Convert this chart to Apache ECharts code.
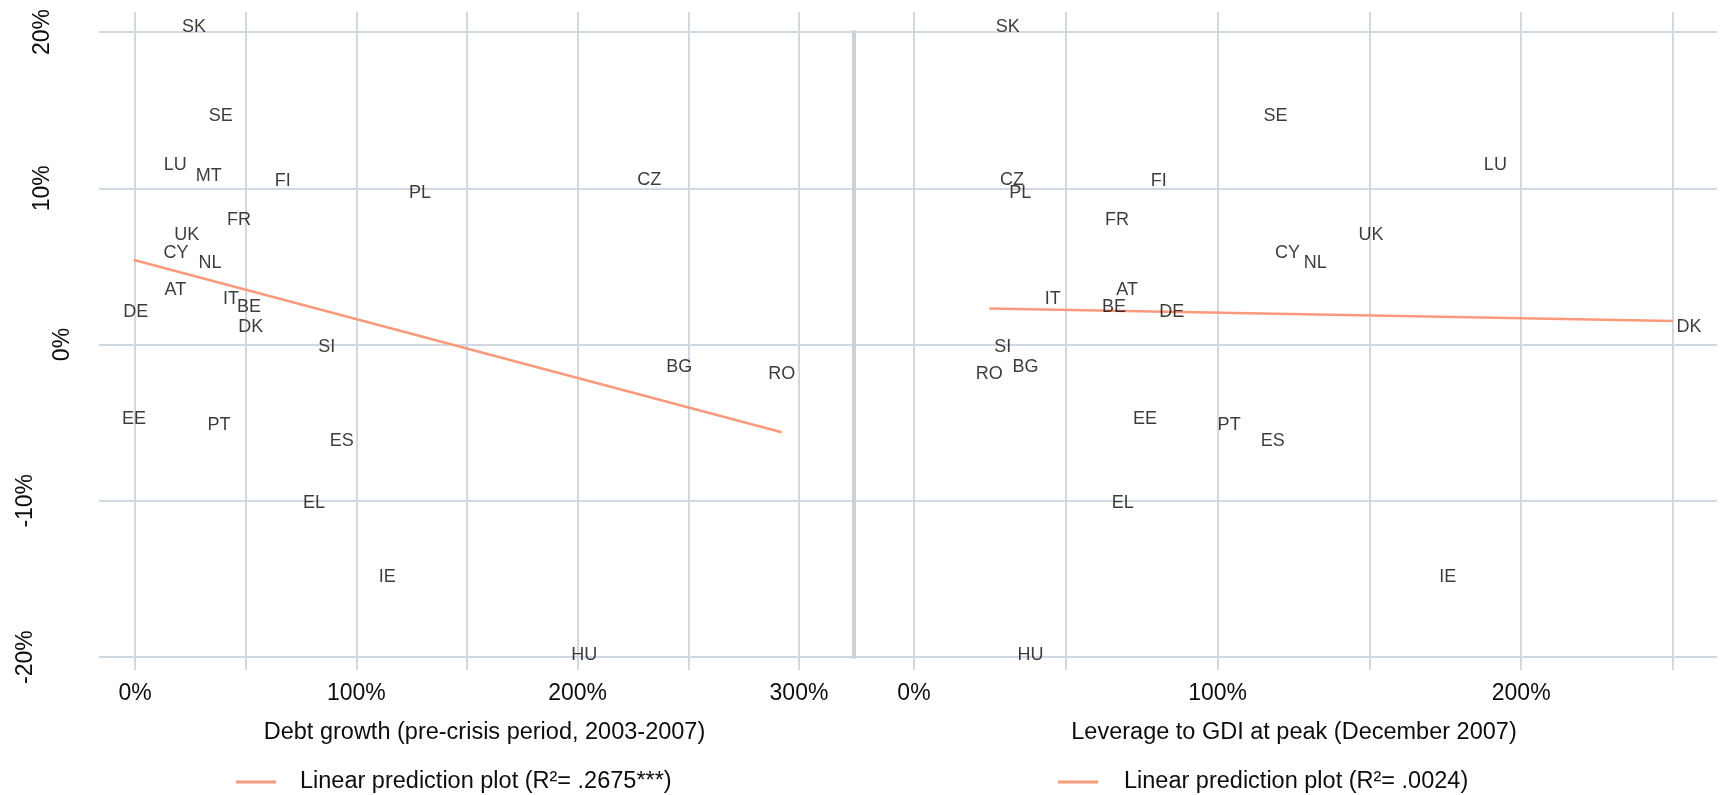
<!DOCTYPE html>
<html><head><meta charset="utf-8">
<script src="https://cdn.jsdelivr.net/npm/echarts@6/dist/echarts.min.js"></script>
<style>html,body{margin:0;padding:0;background:#fff}#c{width:1721px;height:795px}</style>
</head><body><div id="c"></div>
<script>
// ---- data ----
const countries = ['SK','SE','LU','MT','FI','PL','CZ','FR','UK','CY','NL','AT','IT','BE','DE','DK','SI','BG','RO','EE','PT','ES','EL','IE','HU'];
const debtGrowth = [26.7,38.7,18.2,33.3,66.7,128.8,232.4,47.0,23.4,18.5,33.9,18.2,43.4,51.5,0.3,52.3,86.6,245.9,292.2,-0.45,38.0,93.4,80.9,114.0,203.0];
const leverage = [30.9,119.1,191.5,null,80.6,35.0,32.3,66.9,150.5,123.0,132.2,70.2,45.7,65.9,84.9,255.3,29.2,36.7,24.8,76.1,103.8,118.2,68.8,175.8,38.4];
const outcome = [20.34,14.6,11.47,10.76,10.48,9.71,10.53,7.99,6.99,5.86,5.22,3.51,2.89,2.4,2.08,1.12,-0.16,-1.42,-1.89,-4.79,-5.13,-6.16,-10.16,-14.9,-19.87];

const leftFitX = [-0.45, 292.2];
const leftFitY = [5.41, -5.62];
const rightFitX = [24.8, 250];
const rightFitY = [2.3, 1.5];

const leftXTicks = [0,50,100,150,200,250,300];
const leftXLabels = [0,100,200,300];
const rightXTicks = [0,50,100,150,200,250];
const rightXLabels = [0,100,200];
const yTicks = [-20,-10,0,10,20];

const leftTitle = 'Debt growth (pre-crisis period, 2003-2007)';
const rightTitle = 'Leverage to GDI at peak (December 2007)';
const leftLegend = 'Linear prediction plot (R\u00b2= .2675***)';
const rightLegend = 'Linear prediction plot (R\u00b2= .0024)';

// ---- styling ----
const FONT = '"Liberation Sans", Arial, Helvetica, sans-serif';
const GRIDC = '#d0d9e2';
const TXT = '#0d0d0d';
const FIT = '#f99a7c';

function pts(xs){
  const out = [];
  countries.forEach((c,i)=>{ if (xs[i] != null) out.push([xs[i], outcome[i], c]); });
  return out;
}
function fit(xs, ys){ return xs.map((x,i)=>[x, ys[i]]); }

const chart = echarts.init(document.getElementById('c'));
const pct = v => v + '%';

function xAxisDef(idx, min, max, ticks, labels, title){
  return {
    gridIndex: idx, type: 'value', min: min, max: max,
    axisLine: {show: false},
    axisTick: {show: false, customValues: ticks},
    splitLine: {show: true, lineStyle: {color: GRIDC, width: 2}},
    axisLabel: {customValues: labels, formatter: pct, margin: 12, fontSize: 23, color: TXT, fontFamily: FONT},
    name: title, nameLocation: 'middle', nameGap: 51,
    nameTextStyle: {fontSize: 23.5, color: TXT, fontFamily: FONT, padding: [0,0,0,16]}
  };
}
function yAxisDef(idx, showLabels){
  return {
    gridIndex: idx, type: 'value', min: -20.83, max: 21.28,
    axisLine: {show: false},
    axisTick: {show: false, customValues: yTicks},
    splitLine: {show: true, lineStyle: {color: GRIDC, width: 2}},
    axisLabel: {
      show: showLabels, customValues: yTicks, rotate: 90, margin: 25,
      fontSize: 23, color: TXT, fontFamily: FONT,
      formatter: v => v === 0 ? '{b|0%}' : (v > 0 ? '{a|' + v + '%}' : '{c|' + v + '%}'),
      rich: {
        a: {fontSize: 23, color: TXT, fontFamily: FONT, padding: [0,0,20,0]},
        b: {fontSize: 23, color: TXT, fontFamily: FONT},
        c: {fontSize: 23, color: TXT, fontFamily: FONT, padding: [0,0,37,0]}
      }
    }
  };
}

const labelStyle = {show: true, position: 'inside', formatter: p => p.data[2], color: '#0a0a0a', fontSize: 18, fontFamily: FONT};

const option = {
  animation: false,
  backgroundColor: '#fff',
  grid: [
    {left: 99, top: 12, width: 755, height: 658},
    {left: 855, top: 12, width: 862, height: 658},
    {left: 854, top: 32, width: 1, height: 625}
  ],
  xAxis: [
    xAxisDef(0, -16.27, 324.86, leftXTicks, leftXLabels, leftTitle),
    xAxisDef(1, -19.43, 264.5, rightXTicks, rightXLabels, rightTitle),
    {gridIndex: 2, type: 'value', show: false, min: 0, max: 1}
  ],
  yAxis: [
    yAxisDef(0, true),
    yAxisDef(1, false),
    {gridIndex: 2, type: 'value', min: -20, max: 20,
     axisLine: {show: true, lineStyle: {color: '#c9d3dc', width: 4}},
     axisTick: {show: false}, axisLabel: {show: false}, splitLine: {show: false}}
  ],
  legend: [
    {data: [leftLegend], left: 236, top: 770, padding: 0, icon: 'rect', itemWidth: 40, itemHeight: 3, selectedMode: false,
     textStyle: {fontSize: 23.5, color: TXT, fontFamily: FONT, padding: [0,0,0,19]}},
    {data: [rightLegend], left: 1058, top: 770, padding: 0, icon: 'rect', itemWidth: 40, itemHeight: 3, selectedMode: false,
     textStyle: {fontSize: 23.5, color: TXT, fontFamily: FONT, padding: [0,0,0,21]}}
  ],
  series: [
    {type: 'line', name: leftLegend, xAxisIndex: 0, yAxisIndex: 0, data: fit(leftFitX, leftFitY),
     symbol: 'none', z: 1, lineStyle: {color: FIT, width: 2.5}, itemStyle: {color: FIT}, silent: true},
    {type: 'line', name: rightLegend, xAxisIndex: 1, yAxisIndex: 1, data: fit(rightFitX, rightFitY),
     symbol: 'none', z: 1, lineStyle: {color: FIT, width: 2.5}, itemStyle: {color: FIT}, silent: true},
    {type: 'scatter', name: 'left', xAxisIndex: 0, yAxisIndex: 0, data: pts(debtGrowth), symbolSize: 2, z: 3,
     itemStyle: {color: 'rgba(0,0,0,0)'}, label: labelStyle, silent: true, clip: false},
    {type: 'scatter', name: 'right', xAxisIndex: 1, yAxisIndex: 1, data: pts(leverage), symbolSize: 2, z: 3,
     itemStyle: {color: 'rgba(0,0,0,0)'}, label: labelStyle, silent: true, clip: false}
  ]
};
chart.setOption(option);
</script>
</body></html>
